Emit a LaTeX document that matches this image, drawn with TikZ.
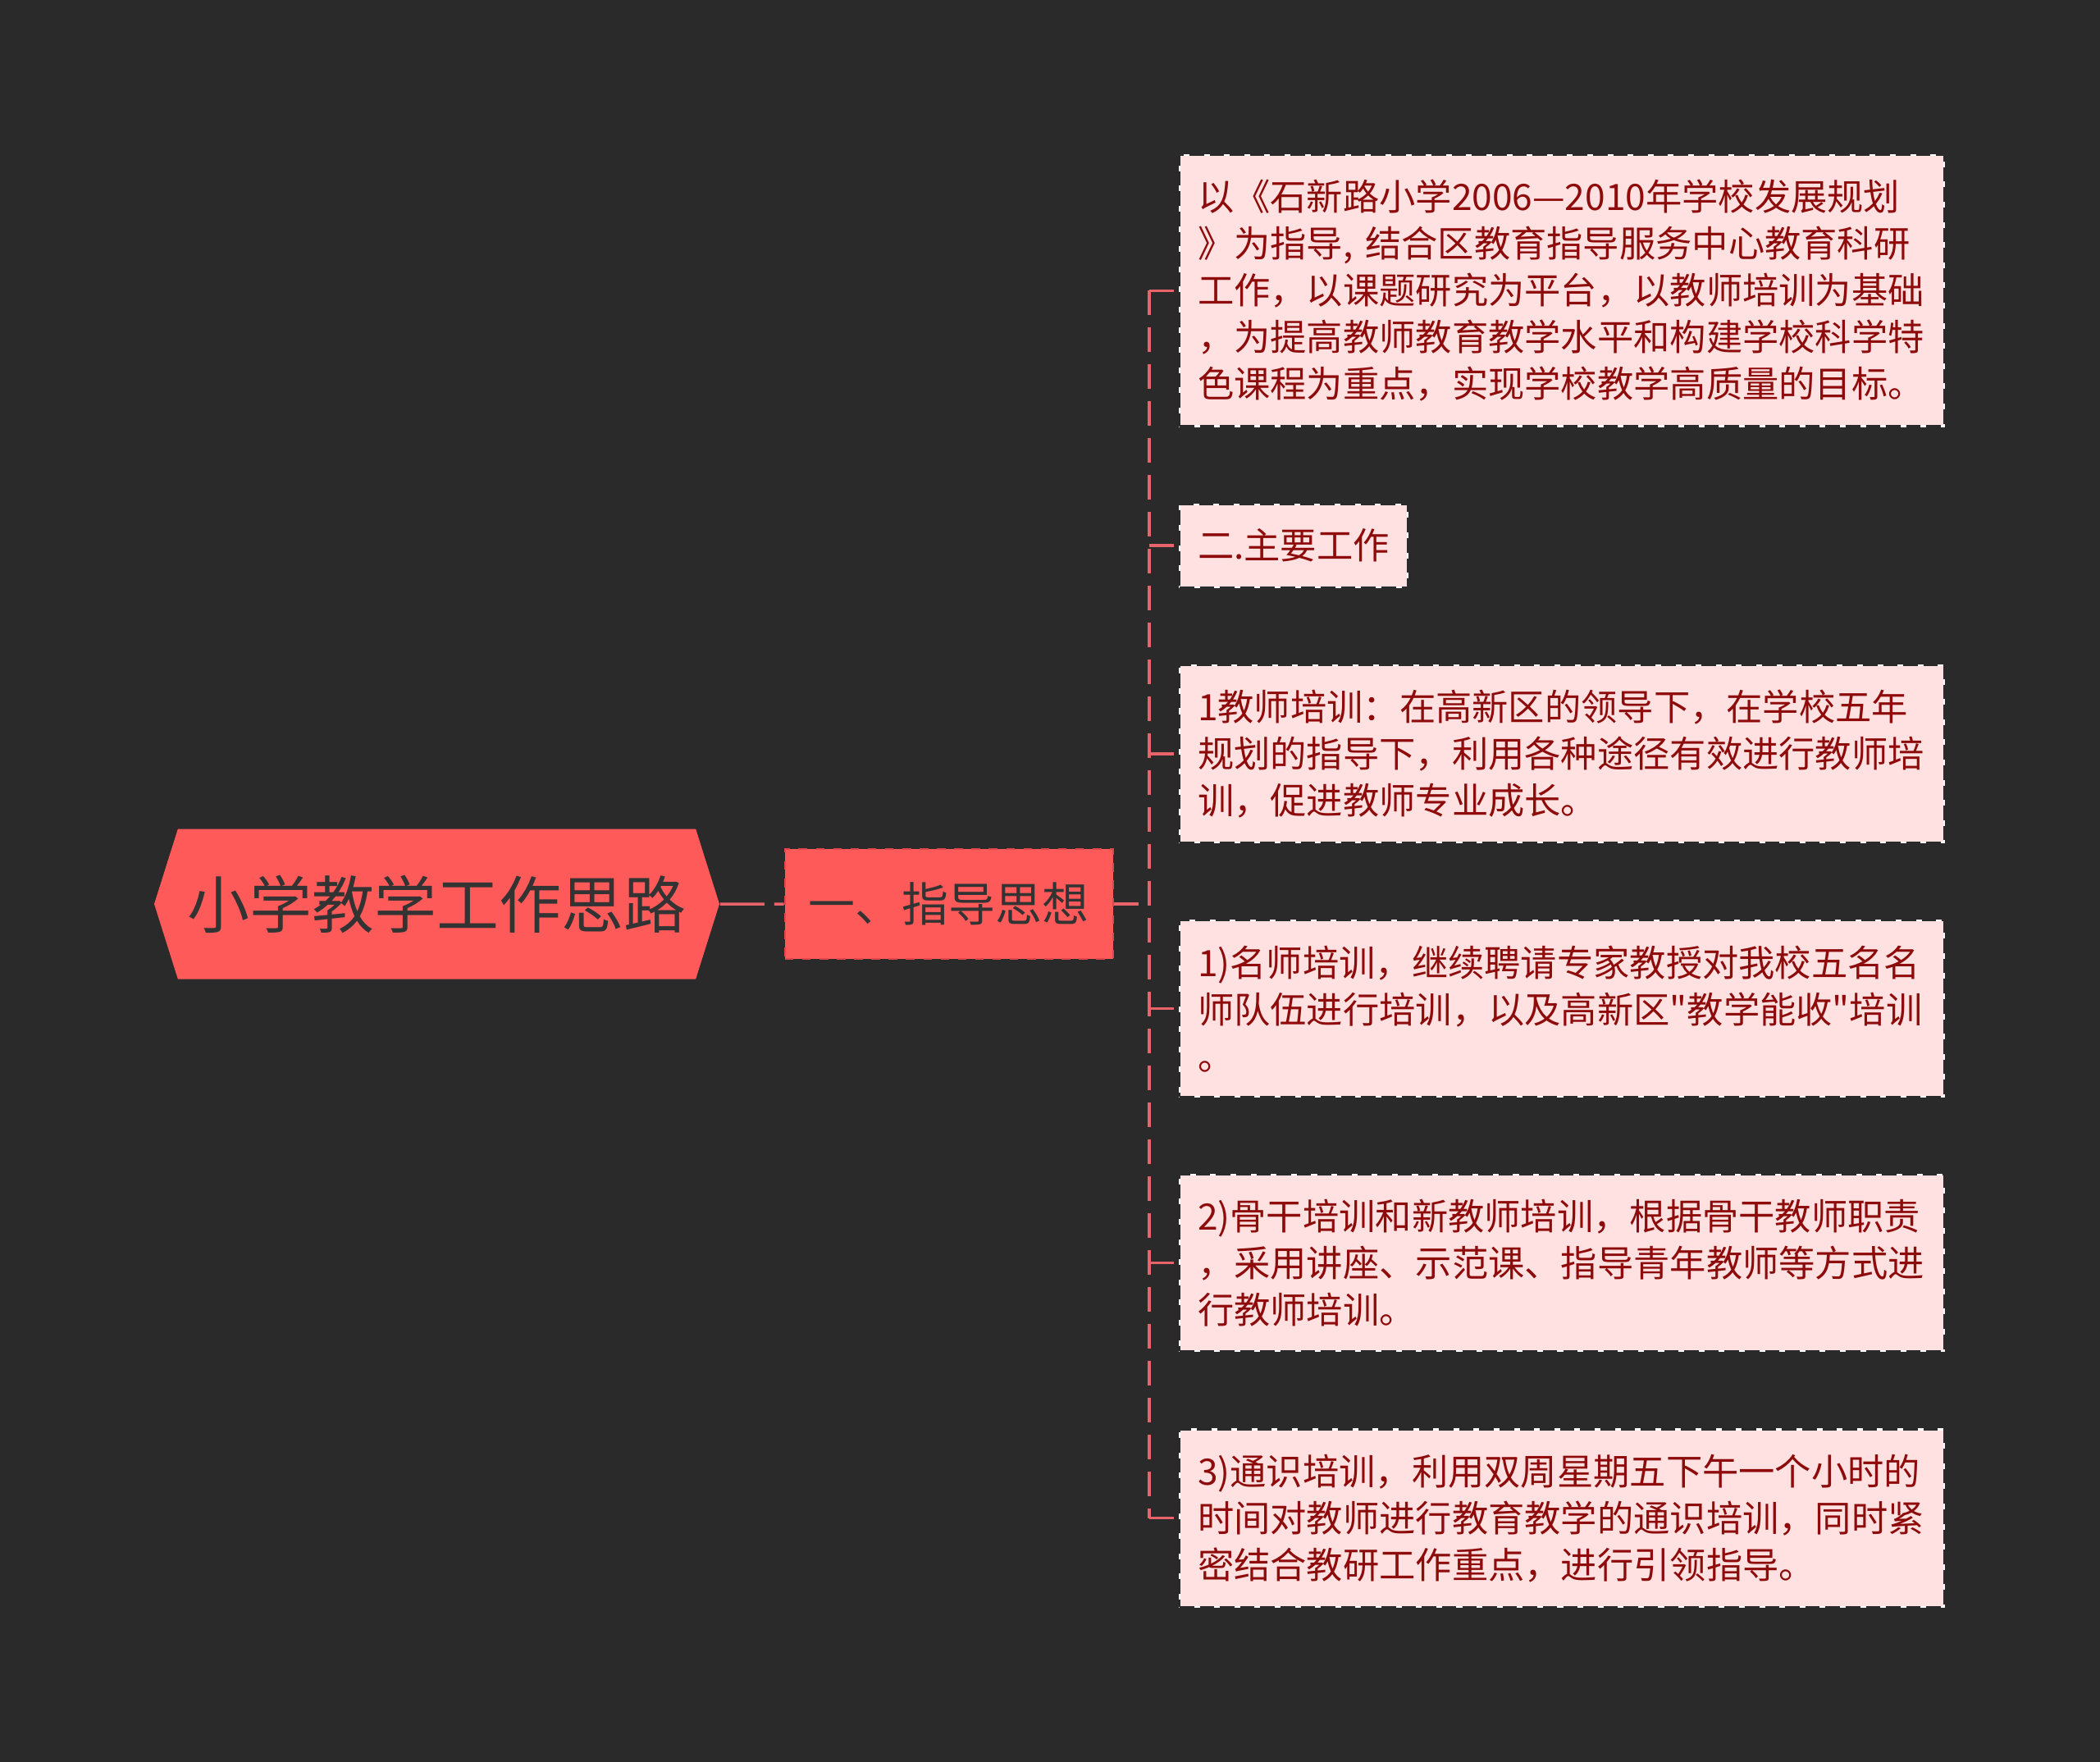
\documentclass[tikz,border=0pt]{standalone}
\usepackage{fontspec}
\newfontfamily\cjk{Noto Sans CJK SC}
\usetikzlibrary{positioning,shapes.symbols}
\definecolor{bgdark}{HTML}{2A2A2A}
\definecolor{rootred}{HTML}{FF5A5A}
\definecolor{rootedge}{HTML}{E0474C}
\definecolor{leafpink}{HTML}{FFE1E1}
\definecolor{leaftext}{HTML}{8E0B0B}
\definecolor{linkred}{HTML}{E8636A}
\definecolor{darktext}{HTML}{333333}
\tikzset{
  rootbox/.style={shape=signal, signal to=west and east, signal pointer angle=145, fill=rootred, minimum width=6.89cm, minimum height=1.83cm, inner sep=0pt, text=darktext, font=\cjk\fontsize{21.6}{26}\selectfont},
  guidebox/.style={fill=rootred, draw=rootedge, dashed, line width=0.6pt, minimum width=4cm, minimum height=1.34cm, inner sep=0pt, text=darktext, font=\cjk\fontsize{16.2}{20}\selectfont},
  leafbox/.style={fill=leafpink, draw=white, line width=0.6pt, postaction={draw=bgdark, line width=0.6pt, dash pattern=on 5pt off 2pt}, align=left, inner xsep=0.22cm, inner ysep=0.302cm, text=leaftext, font=\cjk\fontsize{12.6}{16.2}\selectfont},
  widebox/.style={leafbox, text width=8.88cm},
  link/.style={draw=linkred, line width=0.035cm, dash pattern=on 0.3cm off 0.15cm}
}
\begin{document}
\begin{tikzpicture}[node distance=0.93cm]
\fill[bgdark] (0,0) rectangle (25.6,-21.48);
\useasboundingbox (0,0) rectangle (25.6,-21.48);
\node[rootbox] (root) at (5.325,-11.02) {小学教学工作思路};
\node[guidebox, right=0.78cm of root] (guide) {一、指导思想};
\coordinate[right=0.43cm of guide.east] (trunk);
\node[widebox, anchor=north west] (c1) at (14.37,-1.88) {以《石新路小学2006—2010年学校发展规划\\》为指导, 结合区教育指导服务中心教育科研\\工作，以课题研究为平台，以教师培训为基础\\，为提高教师教育教学水平和构建学校科学特\\色课程为重点，实现学校教学高质量的目标。};
\node[leafbox, below=of c1.south west, anchor=north west] (c2) {二.主要工作};
\node[widebox, below=of c2.south west, anchor=north west] (c3) {1教师培训：在高新区的领导下，在学校五年\\规划的指导下，利用各种途径有效进行教师培\\训，促进教师专业成长。};
\node[widebox, below=of c3.south west, anchor=north west] (c4) {1)名师培训，继续聘请专家教授对我校五名名\\师队伍进行培训，以及高新区"教学能收"培训\\。};
\node[widebox, below=of c4.south west, anchor=north west] (c5) {2)骨干培训和新教师培训，根据骨干教师职责\\，采用讲座、示范课、指导青年教师等方式进\\行教师培训。};
\node[widebox, below=of c5.south west, anchor=north west] (c6) {3)通识培训，利用双周星期五下午一个小时的\\时间对教师进行教育教学的通识培训，同时紧\\密结合教研工作重点，进行引领指导。};
\draw[link, dash pattern=on 0.54cm off 0.12cm] (root) -- (guide);
\draw[link] (guide) -- (trunk);
\draw[link] (trunk |- c1.west) -- (trunk |- c6.west);
\foreach \n in {1,...,6}
  \draw[link] (trunk |- c\n.west) -- (c\n.west);
\end{tikzpicture}
\end{document}
